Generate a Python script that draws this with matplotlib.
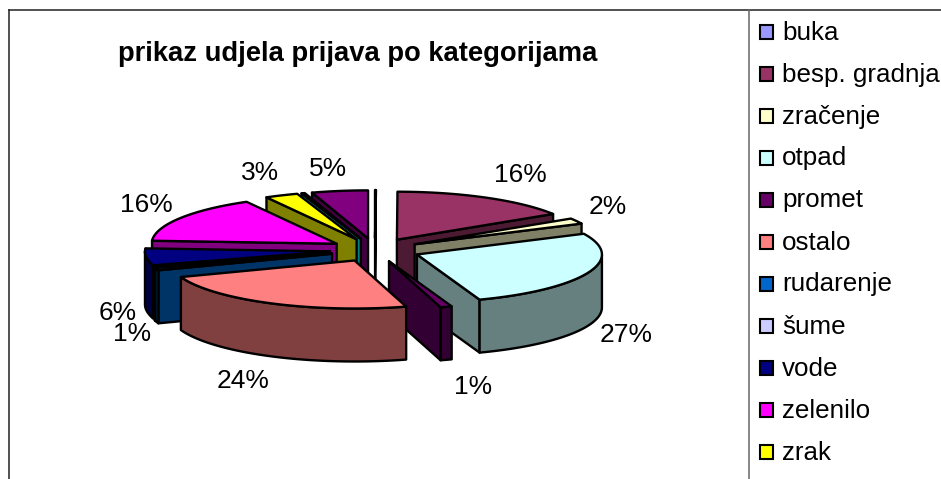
import numpy as np
import matplotlib
matplotlib.use('Agg')
import matplotlib.pyplot as plt
from matplotlib.patches import Polygon, Rectangle

plt.rcParams['font.family'] = ['Liberation Sans', 'DejaVu Sans']

title = 'prikaz udjela prijava po kategorijama'
# zadnje dvije kategorije su odrezane u legendi
legend_names = ['buka', 'besp. gradnja', 'zračenje', 'otpad', 'promet', 'ostalo',
                'rudarenje', 'šume', 'vode', 'zelenilo', 'zrak']
values = [0.05, 15.95, 1.9, 26.6, 1.0, 23.9, 0.8, 0.1, 5.7, 15.9, 2.9, 0.3, 4.9]
colors = ['#9999FF', '#993366', '#FFFFCC', '#CCFFFF', '#660066', '#FF8080', '#0066CC',
          '#CCCCFF', '#000080', '#FF00FF', '#FFFF00', '#00FFFF', '#800080']
label_pos = {1: (520, 175), 2: (608, 207), 3: (626, 335), 4: (473, 387), 5: (243, 381),
             6: (132, 334), 8: (118, 313), 9: (146, 205), 10: (260, 173), 12: (328, 169)}
draw_order = [0, 12, 11, 10, 9, 1, 2, 8, 7, 6, 3, 4, 5]

cx, cy = 375, 250
rx, ry = 185, 48
explode = 0.245
depth = 53
lw = 1.7


def shade(col, f=0.5):
    rgb = matplotlib.colors.to_rgb(col)
    return tuple(c * f for c in rgb)


def point(ang, r=1.0):
    return np.array([r * rx * np.sin(ang), -r * ry * np.cos(ang)])


def face(ax, pts, col, z):
    ax.add_patch(Polygon(pts, closed=True, facecolor=col, edgecolor='black',
                         linewidth=lw, joinstyle='round', zorder=z))


fig = plt.figure(figsize=(9.41, 4.79), dpi=100)
ax = fig.add_axes([0, 0, 1, 1])
ax.set_xlim(0, 941)
ax.set_ylim(479, 0)
ax.axis('off')

# okvir
ax.plot([9, 9], [479, 10], color='#222222', lw=1.1)
ax.plot([9, 941], [10, 10], color='#222222', lw=1.1)
ax.plot([749, 749], [10, 479], color='#666666', lw=1.1)

ax.text(358, 54, title, fontsize=19.7, fontweight='bold', ha='center', va='center')

edges = np.cumsum([0] + values) / sum(values) * 2 * np.pi
z = 2
for i in draw_order:
    a1, a2 = edges[i], edges[i + 1]
    mid = (a1 + a2) / 2
    tip = np.array([cx, cy]) + point(mid, explode)
    down = np.array([0, depth])
    dark = shade(colors[i])
    # vidi se samo prednja bocna stranica
    if a2 <= np.pi:
        p = tip + point(a2)
        face(ax, [tip, p, p + down, tip + down], dark, z)
    elif a1 >= np.pi:
        p = tip + point(a1)
        face(ax, [tip, p, p + down, tip + down], dark, z)
    arc = np.linspace(a1, a2, 60)
    rim = np.array([tip + point(a) for a in arc])
    front = rim[np.cos(arc) <= 0]
    if len(front) > 1:
        face(ax, np.vstack([front, front[::-1] + down]), dark, z)
    face(ax, np.vstack([tip, rim]), colors[i], z)
    z += 1

for i, (x, y) in label_pos.items():
    ax.text(x, y, '%d%%' % round(values[i]), fontsize=19, ha='center', va='center', zorder=50)

# legenda
for i, name in enumerate(legend_names):
    y = 32 + 42 * i
    ax.add_patch(Rectangle((760, y - 7), 13.5, 14, facecolor=colors[i], edgecolor='black', linewidth=1.5))
    ax.text(782, y + 0.5, name, fontsize=18.7, ha='left', va='center')

fig.savefig('out.png', dpi=100)
